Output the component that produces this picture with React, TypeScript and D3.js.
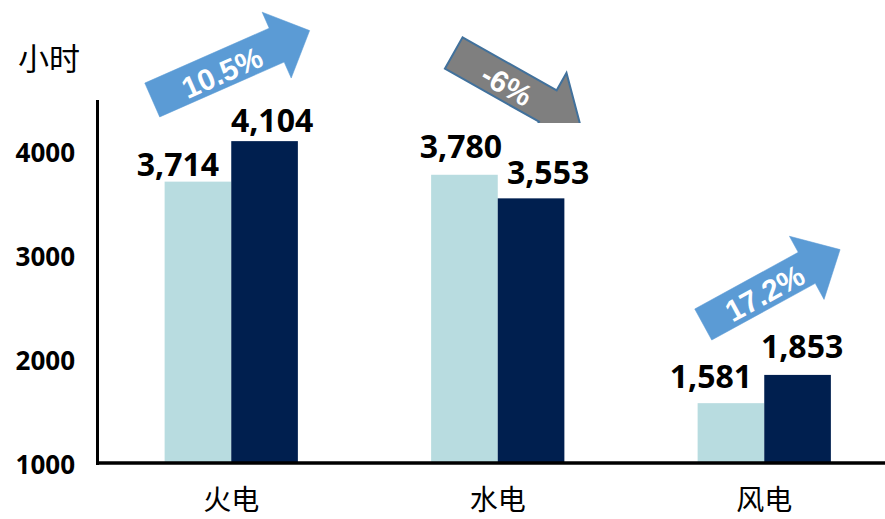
import React from 'react';
import * as d3 from 'd3';

// ---- data ----
const categories = ['火电', '水电', '风电'];
const seriesPrev = [3714, 3780, 1581];
const seriesCurr = [4104, 3553, 1853];
const yTicks = [1000, 2000, 3000, 4000];
const changeLabels = ['10.5%', '-6%', '17.2%'];
const changeDirection = ['up', 'down', 'up'];
const yUnit = '小时';

// ---- layout ----
const W = 885;
const H = 519;
const x = d3.scaleBand<string>().domain(categories).range([98, 897.5]).padding(0);
const y = d3.scaleLinear().domain([1000, 4500]).range([463.5, 100]);
const fmt = d3.format(',');

const COLORS = { prev: '#B8DCE0', curr: '#001F4F', up: '#5B9BD5', down: '#7F7F7F', downStroke: '#41719C' };

// label nudges (px) relative to bar centre / top : [prev, curr] per category
const labelNudge = [
  [{ dx: -20, dy: -5.6 }, { dx: 7.5, dy: -8.7 }],
  [{ dx: -3.5, dy: -17 }, { dx: 17, dy: -14 }],
  [{ dx: -20, dy: -15 }, { dx: 4.5, dy: -16.7 }],
];

// arrow geometry per category: tail centre offset from band centre, angle, sizes
const arrowGeom = [
  { dx: -79, ty: 100, angle: -23.8, L: 172, hs: 136, h: 36, s: 18.5, ta: 75, tp: 3 },
  { dx: -44, ty: 53, angle: 29.4, L: 145, hs: 108, h: 38, s: 18, ta: 62, tp: 2 },
  { dx: -61, ty: 324.5, angle: -28.7, L: 156, hs: 118, h: 36, s: 17.7, ta: 69, tp: 2 },
];

function arrowPath(L: number, hs: number, h: number, s: number) {
  const p = d3.path();
  p.moveTo(0, -s);
  p.lineTo(hs, -s);
  p.lineTo(hs, -h);
  p.lineTo(L, 0);
  p.lineTo(hs, h);
  p.lineTo(hs, s);
  p.lineTo(0, s);
  p.closePath();
  return p.toString();
}

export default function App() {
  const bw = x.bandwidth();
  const barW = bw / 4;
  const numFont = "'Open Sans', 'Liberation Sans', sans-serif";
  const cjkFont = "'Noto Sans CJK SC', sans-serif";

  return (
    <svg
      width={W}
      height={H}
      viewBox={`0 0 ${W} ${H}`}
      style={{ position: 'absolute', left: 0, top: 0, background: '#fff' }}
    >
      <defs>
        <clipPath id="clipDown">
          <rect x={0} y={0} width={W} height={123} />
        </clipPath>
      </defs>
      <rect x={0} y={0} width={W} height={H} fill="#fff" />

      {/* unit */}
      <text x={49} y={56} fontFamily={cjkFont} fontSize={31} textAnchor="middle" dominantBaseline="central" fill="#000">
        {yUnit}
      </text>

      {/* y ticks */}
      {yTicks.map((t) => (
        <text
          key={t}
          x={75}
          y={y(t)}
          fontFamily={numFont}
          fontWeight={700}
          fontSize={26}
          textAnchor="end"
          dominantBaseline="central"
          fill="#000"
        >
          {t}
        </text>
      ))}

      {/* bars */}
      {categories.map((c, i) => {
        const x0 = (x(c) as number) + bw / 4;
        return (
          <g key={c}>
            <rect x={x0} y={y(seriesPrev[i])} width={barW} height={y(1000) - y(seriesPrev[i])} fill={COLORS.prev} />
            <rect x={x0 + barW} y={y(seriesCurr[i])} width={barW} height={y(1000) - y(seriesCurr[i])} fill={COLORS.curr} />
          </g>
        );
      })}

      {/* axes */}
      <line x1={97.5} x2={97.5} y1={100} y2={465} stroke="#000" strokeWidth={3} />
      <line x1={96} x2={W} y1={463} y2={463} stroke="#000" strokeWidth={3.5} />

      {/* category labels */}
      {categories.map((c) => (
        <text
          key={c}
          x={(x(c) as number) + bw / 2}
          y={498}
          fontFamily={cjkFont}
          fontSize={28}
          textAnchor="middle"
          dominantBaseline="central"
          fill="#000"
        >
          {c}
        </text>
      ))}

      {/* value labels */}
      {categories.map((c, i) => {
        const x0 = (x(c) as number) + bw / 4;
        const vals = [seriesPrev[i], seriesCurr[i]];
        return vals.map((v, j) => (
          <text
            key={c + j}
            x={x0 + barW * j + barW / 2 + labelNudge[i][j].dx}
            y={y(v) + labelNudge[i][j].dy}
            fontFamily={numFont}
            fontWeight={700}
            fontSize={32}
            textAnchor="middle"
            fill="#000"
          >
            {fmt(v)}
          </text>
        ));
      })}

      {/* change arrows */}
      {categories.map((c, i) => {
        const g = arrowGeom[i];
        const cx = (x(c) as number) + bw / 2 + g.dx;
        const down = changeDirection[i] === 'down';
        return (
          <g key={'arr' + c} clipPath={down ? 'url(#clipDown)' : undefined}>
            <g transform={`translate(${cx},${g.ty}) rotate(${g.angle})`}>
              <path
                d={arrowPath(g.L, g.hs, g.h, g.s)}
                fill={down ? COLORS.down : COLORS.up}
                stroke={down ? COLORS.downStroke : COLORS.up}
                strokeWidth={down ? 2 : 0.5}
                strokeLinejoin="miter"
              />
              <text
                x={g.ta}
                y={g.tp}
                fontFamily="'Liberation Sans', Arial, sans-serif"
                fontWeight={700}
                fontSize={30}
                textAnchor="middle"
                dominantBaseline="central"
                fill="#fff"
              >
                {changeLabels[i]}
              </text>
            </g>
          </g>
        );
      })}
    </svg>
  );
}
